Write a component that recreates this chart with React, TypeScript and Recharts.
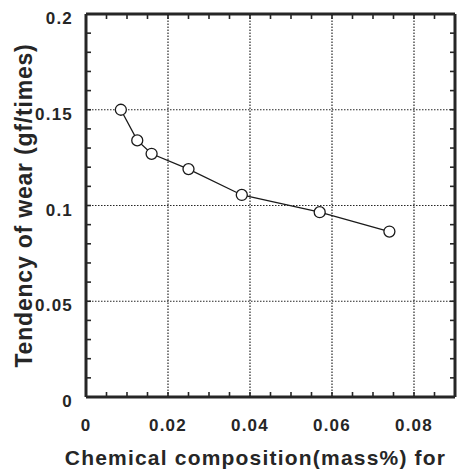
import React from 'react';
import { LineChart, Line, XAxis, YAxis, ReferenceLine } from 'recharts';

// chemical composition (mass%) and tendency of wear (gf/times)
const composition = [0.0085, 0.0125, 0.016, 0.025, 0.038, 0.057, 0.074];
const wearTendency = [0.15, 0.134, 0.127, 0.119, 0.1055, 0.0965, 0.0864];

const xTicks = [0, 0.005, 0.01, 0.015, 0.02, 0.025, 0.03, 0.035, 0.04, 0.045, 0.05, 0.055, 0.06, 0.065, 0.07, 0.075, 0.08, 0.085, 0.09];
const yTicks = [0, 0.01, 0.02, 0.03, 0.04, 0.05, 0.06, 0.07, 0.08, 0.09, 0.1, 0.11, 0.12, 0.13, 0.14, 0.15, 0.16, 0.17, 0.18, 0.19, 0.2];

const xLabelValues = [0, 0.02, 0.04, 0.06, 0.08];
const xLabelTexts = ['0', '0.02', '0.04', '0.06', '0.08'];
const yLabelValues = [0, 0.05, 0.1, 0.15, 0.2];
const yLabelTexts = ['0', '0.05', '0.1', '0.15', '0.2'];

const xGrid = [0.02, 0.04, 0.06, 0.08];
const yGrid = [0.05, 0.1, 0.15];

const data = composition.map((x, i) => ({ x, wear: wearTendency[i] }));

const FONT = '"Liberation Sans", Arial, Helvetica, sans-serif';
const INK = '#262626';

const labelFor = (values: number[], texts: string[]) => (v: number) => {
    const i = values.findIndex(t => Math.abs(t - v) < 1e-9);
    return i >= 0 ? texts[i] : '';
};

const frame = { stroke: INK, strokeWidth: 3 };
const tickLine = { stroke: INK, strokeWidth: 1.6 };

export default function App() {
    return (
        <div style={{ position: 'absolute', left: 0, top: 0, background: '#fff' }}>
            <LineChart
                width={462}
                height={473}
                data={data}
                margin={{ top: 14, right: 7, left: 0, bottom: 0 }}
            >
                <XAxis
                    dataKey="x"
                    type="number"
                    domain={[0, 0.09]}
                    allowDataOverflow
                    ticks={xTicks}
                    interval={0}
                    height={76}
                    tickSize={-5}
                    tickMargin={27}
                    axisLine={frame}
                    tickLine={tickLine}
                    tickFormatter={labelFor(xLabelValues, xLabelTexts)}
                    tick={{ fill: INK, fontSize: 17, fontWeight: 700, fontFamily: FONT, letterSpacing: 1.2 }}
                    label={{
                        value: 'Chemical composition(mass%) for',
                        position: 'insideBottom',
                        offset: 8,
                        dx: -15,
                        style: { fill: INK, fontSize: 21, fontWeight: 700, fontFamily: FONT, letterSpacing: 1.2 },
                    }}
                />
                <XAxis
                    xAxisId="top"
                    orientation="top"
                    mirror
                    dataKey="x"
                    type="number"
                    domain={[0, 0.09]}
                    allowDataOverflow
                    ticks={xTicks}
                    interval={0}
                    tickSize={5}
                    axisLine={frame}
                    tickLine={tickLine}
                    tickFormatter={() => ''}
                />
                <YAxis
                    type="number"
                    domain={[0, 0.2]}
                    allowDataOverflow
                    ticks={yTicks}
                    interval={0}
                    width={86}
                    tickSize={-5}
                    tickMargin={18}
                    axisLine={frame}
                    tickLine={tickLine}
                    tickFormatter={labelFor(yLabelValues, yLabelTexts)}
                    tick={{ fill: INK, fontSize: 17, fontWeight: 700, fontFamily: FONT, letterSpacing: 1.2, dy: 4 }}
                    label={{
                        value: 'Tendency of wear (gf/times)',
                        angle: -90,
                        position: 'insideLeft',
                        offset: 24,
                        style: { textAnchor: 'middle', fill: INK, fontSize: 23, fontWeight: 700, fontFamily: FONT, letterSpacing: 0.8 },
                    }}
                />
                <YAxis
                    yAxisId="right"
                    orientation="right"
                    mirror
                    type="number"
                    domain={[0, 0.2]}
                    allowDataOverflow
                    ticks={yTicks}
                    interval={0}
                    tickSize={5}
                    axisLine={frame}
                    tickLine={tickLine}
                    tickFormatter={() => ''}
                />
                {xGrid.map(v => (
                    <ReferenceLine key={'x' + v} x={v} stroke={INK} strokeWidth={1.2} strokeDasharray="1.5 1.5" />
                ))}
                {yGrid.map(v => (
                    <ReferenceLine key={'y' + v} y={v} stroke={INK} strokeWidth={1.2} strokeDasharray="1.5 1.5" />
                ))}
                {/* invisible copy so the top and right frame axes get a scale */}
                <Line
                    xAxisId="top"
                    yAxisId="right"
                    dataKey="wear"
                    stroke="none"
                    dot={false}
                    activeDot={false}
                    legendType="none"
                    isAnimationActive={false}
                />
                <Line
                    dataKey="wear"
                    type="linear"
                    stroke="#1a1a1a"
                    strokeWidth={1.3}
                    dot={{ r: 5.5, fill: '#fff', stroke: '#1a1a1a', strokeWidth: 1.3 }}
                    isAnimationActive={false}
                />
            </LineChart>
        </div>
    );
}
